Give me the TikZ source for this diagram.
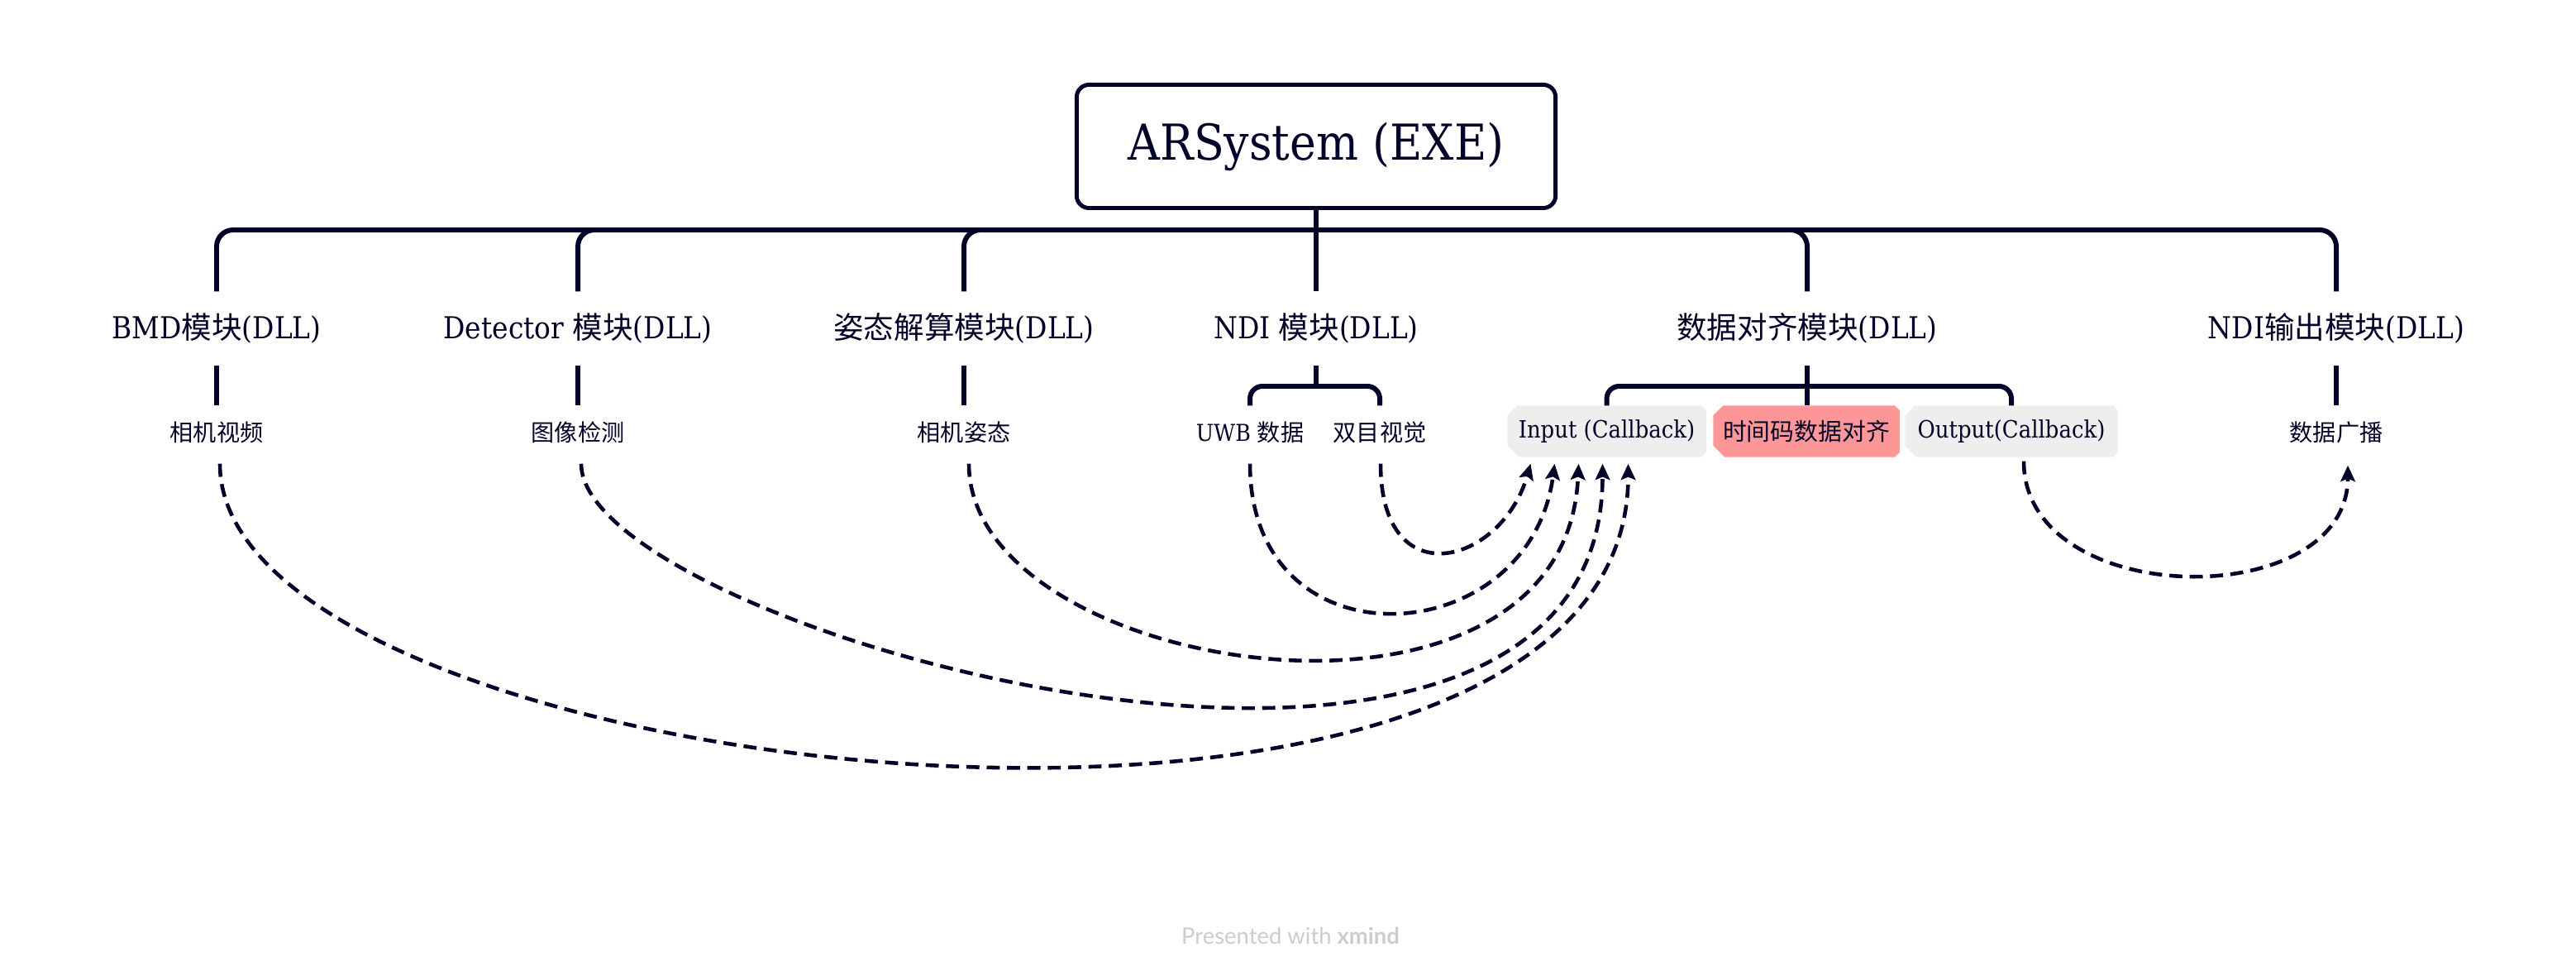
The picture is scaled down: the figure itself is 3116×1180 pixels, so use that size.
\documentclass[tikz,border=0pt]{standalone}
\usepackage{fontspec}
\setmainfont[FakeStretch=0.9]{DejaVu Serif}
\newfontfamily\cjk{Noto Sans CJK SC}
\newfontfamily\footfont{Lato}
\usetikzlibrary{arrows.meta,calc,backgrounds}
\definecolor{ink}{RGB}{2,3,40}
\definecolor{boxgray}{RGB}{238,238,238}
\definecolor{boxred}{RGB}{253,151,151}
\definecolor{footgray}{RGB}{204,204,204}
\newcommand{\tagfill}[2]{\fill[#2] ($(#1.north west)+(12,0)$) -- ($(#1.north east)+(-6,0)$) -- ($(#1.north east)+(0,6)$) -- ($(#1.south east)+(0,-6)$) -- ($(#1.south east)+(-6,0)$) -- ($(#1.south west)+(14,0)$) -- ($(#1.south west)+(0,-14)$) -- ($(#1.north west)+(0,12)$) -- cycle;}
\begin{document}
\begin{tikzpicture}[x=0.01cm,y=-0.01cm,
  conn/.style={draw=ink, line width=1.7pt},
  rel/.style={draw=ink, line width=1.3pt, dash pattern=on 4.5pt off 2.5pt, -{Stealth[length=5.5pt,width=5pt,inset=1pt]}},
  rootbox/.style={draw=ink, line width=1.4pt, rounded corners=0.15cm, minimum width=5.79cm, minimum height=1.49cm, text=ink, font=\fontsize{17pt}{20pt}\selectfont},
  lab/.style={text=ink, inner sep=0pt, minimum height=0.88cm, font=\fontsize{10.4pt}{12pt}\selectfont},
  sub/.style={text=ink, inner sep=0pt, minimum height=0.64cm, font=\fontsize{8pt}{10pt}\selectfont},
  tagbox/.style={text=ink, inner sep=0pt, minimum height=0.61cm, font=\fontsize{8.2pt}{10pt}\selectfont}
]
\useasboundingbox (0,0) rectangle (3116,1180);

% root
\node[rootbox] (root) at (1592,177) {ARSystem (EXE)};
\coordinate (rj) at (1592,278);

% main branches
\node[lab] (bmd) at (262,397) {BMD{\cjk 模块}(DLL)};
\node[lab] (det) at (699,397) {Detector {\cjk 模块}(DLL)};
\node[lab] (pose) at (1166,397) {{\cjk 姿态解算模块}(DLL)};
\node[lab] (ndi) at (1592,397) {NDI {\cjk 模块}(DLL)};
\node[lab] (align) at (2186,397) {{\cjk 数据对齐模块}(DLL)};
\node[lab] (nout) at (2826,397) {NDI{\cjk 输出模块}(DLL)};

% sub topics
\node[sub] (cam) at (262,523) {\cjk 相机视频};
\node[sub] (img) at (699,523) {\cjk 图像检测};
\node[sub] (cpose) at (1166,523) {\cjk 相机姿态};
\node[sub] (uwb) at (1512,523) {UWB {\cjk 数据}};
\node[sub] (stereo) at (1669,523) {\cjk 双目视觉};
\node[tagbox, minimum width=2.39cm] (inp) at (1943.5,521.5) {Input (Callback)};
\node[tagbox, minimum width=2.24cm] (tc) at (2185,521.5) {\cjk 时间码数据对齐};
\node[tagbox, minimum width=2.56cm] (outp) at (2433,521.5) {Output(Callback)};
\node[sub] (bcast) at (2826,523) {\cjk 数据广播};

\begin{pgfonlayer}{background}
\tagfill{inp}{boxgray}
\tagfill{tc}{boxred}
\tagfill{outp}{boxgray}
\end{pgfonlayer}

% tree connectors
\draw[conn] (root.south) -- (rj);
\foreach \n in {bmd,det,pose,align,nout}
  \draw[conn, rounded corners=0.2cm] (rj) -| (\n.north);
\draw[conn] (rj) -- (ndi.north);

\draw[conn] (bmd.south) -- (cam.north);
\draw[conn] (det.south) -- (img.north);
\draw[conn] (pose.south) -- (cpose.north);
\draw[conn] (nout.south) -- (bcast.north);

\coordinate (nj) at (1592,467);
\draw[conn] (ndi.south) -- (nj);
\draw[conn, rounded corners=0.15cm] (nj) -| (uwb.north);
\draw[conn, rounded corners=0.15cm] (nj) -| (stereo.north);

\coordinate (aj) at (2186,467);
\draw[conn] (align.south) -- (align.south |- tc.north);
\draw[conn, rounded corners=0.15cm] (aj) -| (inp.north);
\draw[conn, rounded corners=0.15cm] (aj) -| (outp.north);

% relationships
\draw[rel] ($(cam.south)+(4,5)$) .. controls +(0,394) and +(0,572) .. ($(inp.south)+(26,8)$);
\draw[rel] ($(img.south)+(4,5)$) .. controls +(0,203) and +(0,541) .. ($(inp.south)+(-5,8)$);
\draw[rel] ($(cpose.south)+(6,5)$) .. controls +(0,257) and +(-15,367) .. ($(inp.south)+(-34,8)$);
\draw[rel] ($(uwb.south)+(0,5)$) .. controls +(0,250) and +(-30,229) .. ($(inp.south)+(-63,8)$);
\draw[rel] ($(stereo.south)+(1,5)$) .. controls +(0,162) and +(-35,122) .. ($(inp.south)+(-92,8)$);
\draw[rel] ($(outp.south)+(15,5)$) .. controls +(0,180) and +(0,180) .. ($(bcast.south)+(14,7)$);

% footer
\node[font=\footfont\fontsize{7.8pt}{9pt}\selectfont, text=footgray] (foot) at (1561,1131) {Presented with \textbf{xmind}};
\end{tikzpicture}
\end{document}
